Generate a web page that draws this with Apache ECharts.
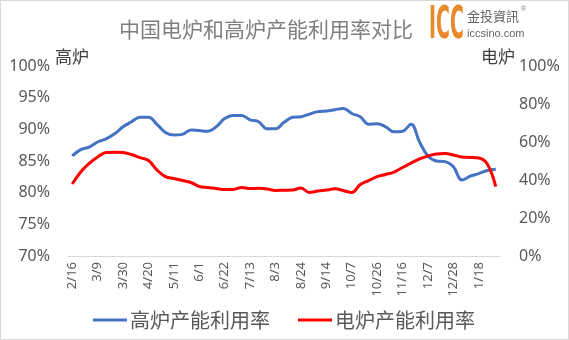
<!DOCTYPE html>
<html>
<head>
<meta charset="utf-8">
<script src="https://cdn.jsdelivr.net/npm/echarts@6/dist/echarts.min.js"></script>
<style>
html,body{margin:0;padding:0;background:#fff;}
#c{width:567px;height:338px;border:1px solid #d9d9d9;}
</style>
</head>
<body>
<div id="c"></div>
<script>
const categories = ['2/16','2/23','3/2','3/9','3/16','3/23','3/30','4/6','4/13','4/20','4/27','5/4','5/11','5/18','5/25','6/1','6/8','6/15','6/22','6/29','7/6','7/13','7/20','7/27','8/3','8/10','8/17','8/24','8/31','9/7','9/14','9/21','9/28','10/7','10/12','10/19','10/26','11/2','11/9','11/16','11/23','11/30','12/7','12/14','12/21','12/28','1/4','1/11','1/18','1/25','2/1'];
const blastFurnace = [85.8,86.8,87.2,88.0,88.5,89.3,90.4,91.2,91.9,91.9,90.8,89.5,89.1,89.2,89.9,89.8,89.7,90.4,91.7,92.2,92.2,91.5,91.2,90.1,90.1,91.1,91.9,92.0,92.4,92.8,92.9,93.1,93.3,92.5,92.0,90.8,90.9,90.4,89.6,89.7,90.8,88.0,85.8,85.0,84.9,84.1,82.0,82.6,83.0,83.5,83.7];
const electricFurnace = [37.9,44.2,48.7,52.1,54.5,54.6,54.5,53.4,51.8,50.3,45.3,41.8,40.8,39.7,38.7,36.6,36.1,35.5,35.0,35.0,36.1,35.5,35.6,35.3,34.5,34.6,34.7,35.8,33.4,34.2,34.7,35.4,34.5,33.4,37.6,39.7,41.8,42.9,44.2,46.6,48.9,51.1,52.6,53.7,53.9,53.2,52.1,51.9,51.6,48.4,36.5];
const leftTicks = {min:70, max:100, interval:5};
const rightTicks = {min:0, max:100, interval:20};
const seriesNames = ['高炉产能利用率','电炉产能利用率'];

const cjk = '"Noto Sans CJK SC", "Noto Sans", sans-serif';
const num = '"Noto Sans", "DejaVu Sans", sans-serif';
const chart = echarts.init(document.getElementById('c'), null, {renderer:'canvas'});
chart.setOption({
  animation:false,
  backgroundColor:'#fff',
  title:{
    text:'中国电炉和高炉产能利用率对比',
    left:113, top:13,
    textStyle:{fontFamily:cjk, fontSize:21, fontWeight:'normal', color:'#7f7f7f'}
  },
  grid:{left:67, right:68, top:65, bottom:83, containLabel:false},
  legend:{
    data:seriesNames,
    bottom:4, left:87,
    icon:'rect', itemWidth:34, itemHeight:3, itemGap:28,
    textStyle:{fontFamily:cjk, fontSize:20, color:'#595959', padding:[0,0,0,-2]}
  },
  xAxis:{
    type:'category', data:categories, boundaryGap:true,
    axisLine:{lineStyle:{color:'#d9d9d9', width:1}},
    axisTick:{show:false},
    axisLabel:{interval:2, rotate:90, margin:6, fontFamily:num, fontSize:13, color:'#595959'}
  },
  yAxis:[
    {type:'value', min:leftTicks.min, max:leftTicks.max, interval:leftTicks.interval,
     splitLine:{show:false}, axisLine:{show:false}, axisTick:{show:false},
     axisLabel:{formatter:'{value}%', margin:18, fontFamily:num, fontSize:16, color:'#595959'}},
    {type:'value', min:rightTicks.min, max:rightTicks.max, interval:rightTicks.interval,
     splitLine:{show:false}, axisLine:{show:false}, axisTick:{show:false},
     axisLabel:{formatter:'{value}%', margin:19, fontFamily:num, fontSize:16, color:'#595959'}}
  ],
  series:[
    {name:seriesNames[0], type:'line', yAxisIndex:0, data:blastFurnace, smooth:0.4,
     symbol:'none', color:'#4472C4', lineStyle:{width:3, color:'#4472C4'}},
    {name:seriesNames[1], type:'line', yAxisIndex:1, data:electricFurnace, smooth:0.4,
     symbol:'none', color:'#FF0000', lineStyle:{width:3, color:'#FF0000'}}
  ],
  graphic:[
    {type:'text', left:54, top:47, style:{text:'高炉', font:'17px '+cjk, fill:'#404040'}},
    {type:'text', left:480, top:47, style:{text:'电炉', font:'17px '+cjk, fill:'#404040'}},
    {type:'text', x:428, y:4, scaleX:0.43, style:{x:0, y:0, text:'ICC', verticalAlign:'top', align:'left', font:'bold 44px "DejaVu Sans", sans-serif', fill:'#E8892B'}},
    {type:'text', x:466, y:9, style:{x:0, y:0, text:'金投資訊', verticalAlign:'top', font:'13px "Noto Sans CJK TC", sans-serif', fill:'#666'}},
    {type:'text', x:520, y:5, style:{x:0, y:0, text:'®', verticalAlign:'top', font:'7px sans-serif', fill:'#888'}},
    {type:'text', x:466, y:27, style:{x:0, y:0, text:'iccsino.com', verticalAlign:'top', font:'11px "Liberation Sans", sans-serif', fill:'#666'}}
  ]
});
</script>
</body>
</html>
